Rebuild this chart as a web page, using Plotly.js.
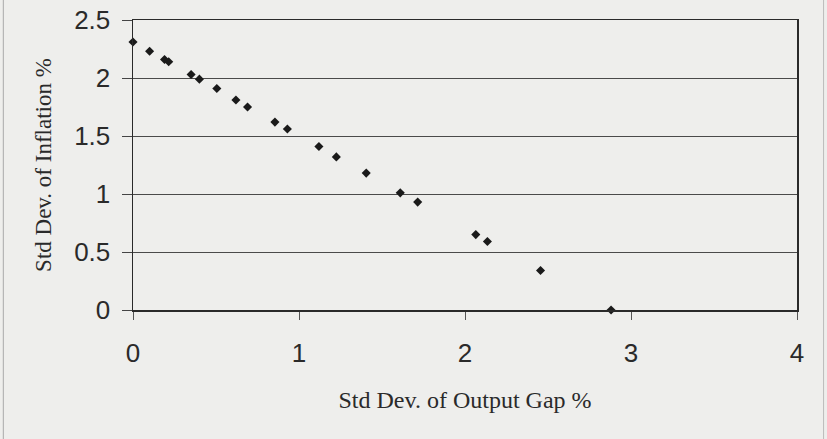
<!DOCTYPE html>
<html>
<head>
<meta charset="utf-8">
<script src="https://cdn.plot.ly/plotly-3.0.1.min.js"></script>
<style>html,body{margin:0;padding:0;background:#eeeeec;}#chart{width:827px;height:439px;}</style>
</head>
<body>
<div id="chart"></div>
<script>
// Std Dev. of Output Gap % (x) vs Std Dev. of Inflation % (y)
const outputGapSD = [0.00, 0.10, 0.19, 0.215, 0.35, 0.40, 0.505, 0.62, 0.69, 0.855, 0.93, 1.12, 1.225, 1.405, 1.61, 1.715, 2.065, 2.135, 2.455, 2.88];
const inflationSD = [2.31, 2.23, 2.16, 2.14, 2.03, 1.99, 1.91, 1.81, 1.75, 1.62, 1.56, 1.41, 1.32, 1.18, 1.01, 0.93, 0.65, 0.59, 0.34, 0.00];
const xTickVals = [0, 1, 2, 3, 4];
const xTickText = ["0", "1", "2", "3", "4"];
const yTickVals = [0, 0.5, 1, 1.5, 2, 2.5];
const yTickText = ["0", "0.5", "1", "1.5", "2", "2.5"];

const trace = {
  x: outputGapSD,
  y: inflationSD,
  type: 'scatter',
  mode: 'markers',
  marker: {symbol: 'diamond', size: 7, color: '#1a1a1a'},
  cliponaxis: false,
  hoverinfo: 'x+y'
};

const layout = {
  width: 827,
  height: 439,
  margin: {l: 133, r: 30, t: 20, b: 129},
  paper_bgcolor: '#eeeeec',
  plot_bgcolor: '#eeeeec',
  showlegend: false,
  xaxis: {
    range: [0, 4],
    tickvals: xTickVals,
    ticktext: xTickText,
    ticks: 'outside',
    ticklen: 8,
    tickcolor: '#555',
    ticklabelstandoff: 11,
    showgrid: false,
    zeroline: false,
    showline: true,
    linecolor: '#2a2a2a',
    linewidth: 1.5,
    mirror: true,
    tickfont: {family: 'Liberation Sans, Arial, sans-serif', size: 26, color: '#2a2a2a'},
    title: {text: 'Std Dev. of Output Gap %', font: {family: 'Liberation Serif, Times New Roman, serif', size: 24, color: '#2a2a2a'}, standoff: 24},
    fixedrange: true
  },
  yaxis: {
    range: [0, 2.5],
    tickvals: yTickVals,
    ticktext: yTickText,
    ticks: 'outside',
    ticklen: 10,
    tickcolor: '#444',
    ticklabelstandoff: 6,
    showgrid: true,
    gridcolor: '#4a4a4a',
    gridwidth: 1,
    zeroline: false,
    showline: true,
    linecolor: '#2a2a2a',
    linewidth: 1.5,
    mirror: true,
    tickfont: {family: 'Liberation Sans, Arial, sans-serif', size: 26, color: '#2a2a2a'},
    title: {text: 'Std Dev. of Inflation %', font: {family: 'Liberation Serif, Times New Roman, serif', size: 23, color: '#2a2a2a'}, standoff: 16},
    fixedrange: true
  },
  shapes: [
    {type: 'line', xref: 'paper', yref: 'paper', x0: -0.1953, x1: -0.1953, y0: -0.445, y1: 1.07, line: {color: '#aaaaaa', width: 1}},
    {type: 'line', xref: 'paper', yref: 'paper', x0: 1.040, x1: 1.040, y0: -0.445, y1: 1.07, line: {color: '#bbbbbb', width: 1}}
  ]
};

Plotly.newPlot('chart', [trace], layout, {displayModeBar: false, staticPlot: true});
</script>
</body>
</html>
